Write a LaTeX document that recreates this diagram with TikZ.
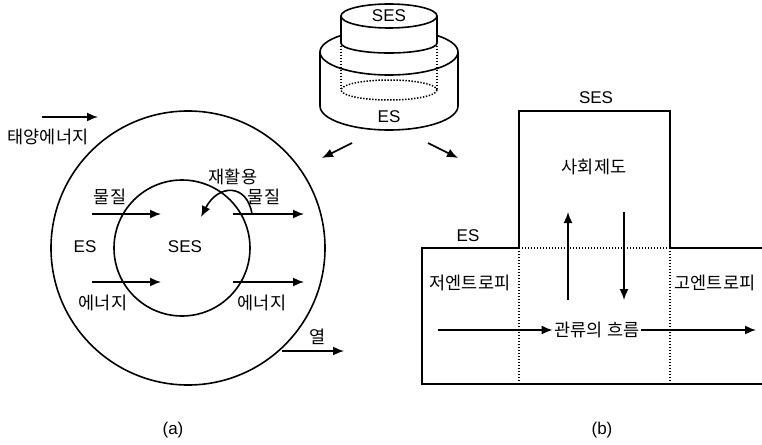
\documentclass[tikz,border=0pt]{standalone}
\usepackage{fontspec}
\setmainfont{Liberation Sans}
\newfontfamily\kr{Noto Sans CJK KR}
\usetikzlibrary{arrows.meta}
\tikzset{
  ln/.style={line width=1.6pt},
  arr/.style={line width=1.6pt,-{Latex[length=11pt,width=9pt]}},
  dots/.style={line width=1.5pt,dash pattern=on 1.4pt off 1.6pt},
  lab/.style={inner sep=1pt,font=\fontsize{17}{19}\selectfont},
  klab/.style={inner sep=1pt,font=\kr\fontsize{17.5}{19}\selectfont},
}
\begin{document}
\begin{tikzpicture}[x=1pt,y=-1pt]
\useasboundingbox (0,0) rectangle (762,444);
% ---------- cylinder ----------
% big cylinder
\draw[ln] (320,52) -- (320,106) arc[start angle=180,end angle=0,x radius=69,y radius=24] -- (458,52);
\draw[ln] (389,52) ellipse[x radius=69,y radius=23];
% hidden parts
\draw[dots] (341,46) -- (341,90);
\draw[dots] (437,46) -- (437,90);
\draw[dots] (389,90) ellipse[x radius=48,y radius=10];
% small cylinder
\fill[white] (341,16) -- (341,43) arc[start angle=180,end angle=0,x radius=48,y radius=10] -- (437,16) -- cycle;
\fill[white] (389,16) ellipse[x radius=48,y radius=12];
\draw[ln] (341,16) -- (341,43) arc[start angle=180,end angle=0,x radius=48,y radius=10] -- (437,16);
\draw[ln] (389,16) ellipse[x radius=48,y radius=12];
\node[lab] (cses) at (389,16) {SES};
\node[lab] (ces) at (389,117) {ES};
% arrows from cylinder
\coordinate (la0) at (352,143); \coordinate (la1) at (322,158);
\coordinate (ra0) at (428,143); \coordinate (ra1) at (458,158);
\draw[arr] (la0) -- (la1);
\draw[arr] (ra0) -- (ra1);
% ---------- panel (a) ----------
\node[draw,ln,circle,minimum size=274pt,inner sep=0pt] (outer) at (188,248) {};
\node[draw,ln,circle,minimum size=136pt,inner sep=0pt] (inner) at (182,248) {};
\node[lab] (ses) at (185,247) {SES};
\node[lab] (es) at (85,247) {ES};
\node[klab] (sun) at (48,137) {태양에너지};
\coordinate (s0) at (42,117); \coordinate (s1) at (98,117);
\draw[arr] (s0) -- (s1);
\node[klab] (m1) at (110,197) {물질};
\node[klab] (m2) at (264,197) {물질};
\node[klab] (e1) at (103,303) {에너지};
\node[klab] (e2) at (262,303) {에너지};
\node[klab] (rec) at (233,177) {재활용};
\node[klab] (heat) at (318,337) {열};
\coordinate (ma0) at (92,214); \coordinate (ma1) at (161,214);
\coordinate (mb0) at (233,214); \coordinate (mb1) at (304,214);
\coordinate (ea0) at (92,282); \coordinate (ea1) at (161,282);
\coordinate (eb0) at (233,282); \coordinate (eb1) at (304,282);
\coordinate (h0) at (282,351); \coordinate (h1) at (344,351);
\draw[arr] (ma0) -- (ma1);
\draw[arr] (mb0) -- (mb1);
\draw[arr] (ea0) -- (ea1);
\draw[arr] (eb0) -- (eb1);
\draw[arr] (h0) -- (h1);
\coordinate (rc0) at (252,214); \coordinate (rc1) at (201,217);
\draw[arr] (rc0) .. controls (247,183) and (218,184) .. (rc1);
\node[lab] (capa) at (173,430) {(a)};
% ---------- panel (b) ----------
\draw[ln] (519,248) -- (519,111) -- (670,111) -- (670,248);
\draw[ln] (519,248) -- (422,248) -- (422,384) -- (762,384);
\draw[ln] (670,248) -- (762,248);
\draw[dots] (519,248) -- (670,248);
\draw[dots] (519,248) -- (519,384);
\draw[dots] (670,248) -- (670,384);
\node[lab] (bses) at (596,98) {SES};
\node[lab] (bes) at (468,236) {ES};
\node[klab] (inst) at (594,167) {사회제도};
\node[klab] (low) at (470,283) {저엔트로피};
\node[klab] (high) at (715,283) {고엔트로피};
\node[klab,inner sep=2pt] (flow) at (597,330) {관류의 흐름};
\coordinate (up0) at (568,300); \coordinate (up1) at (568,212);
\coordinate (dn0) at (624,212); \coordinate (dn1) at (624,300);
\draw[arr] (up0) -- (up1);
\draw[arr] (dn0) -- (dn1);
\coordinate (f0) at (438,330); \coordinate (f1) at (756,330);
\draw[arr] (f0) -- (flow.west);
\draw[arr] (flow.east) -- (f1);
\node[lab] (capb) at (602,430) {(b)};
\end{tikzpicture}
\end{document}
